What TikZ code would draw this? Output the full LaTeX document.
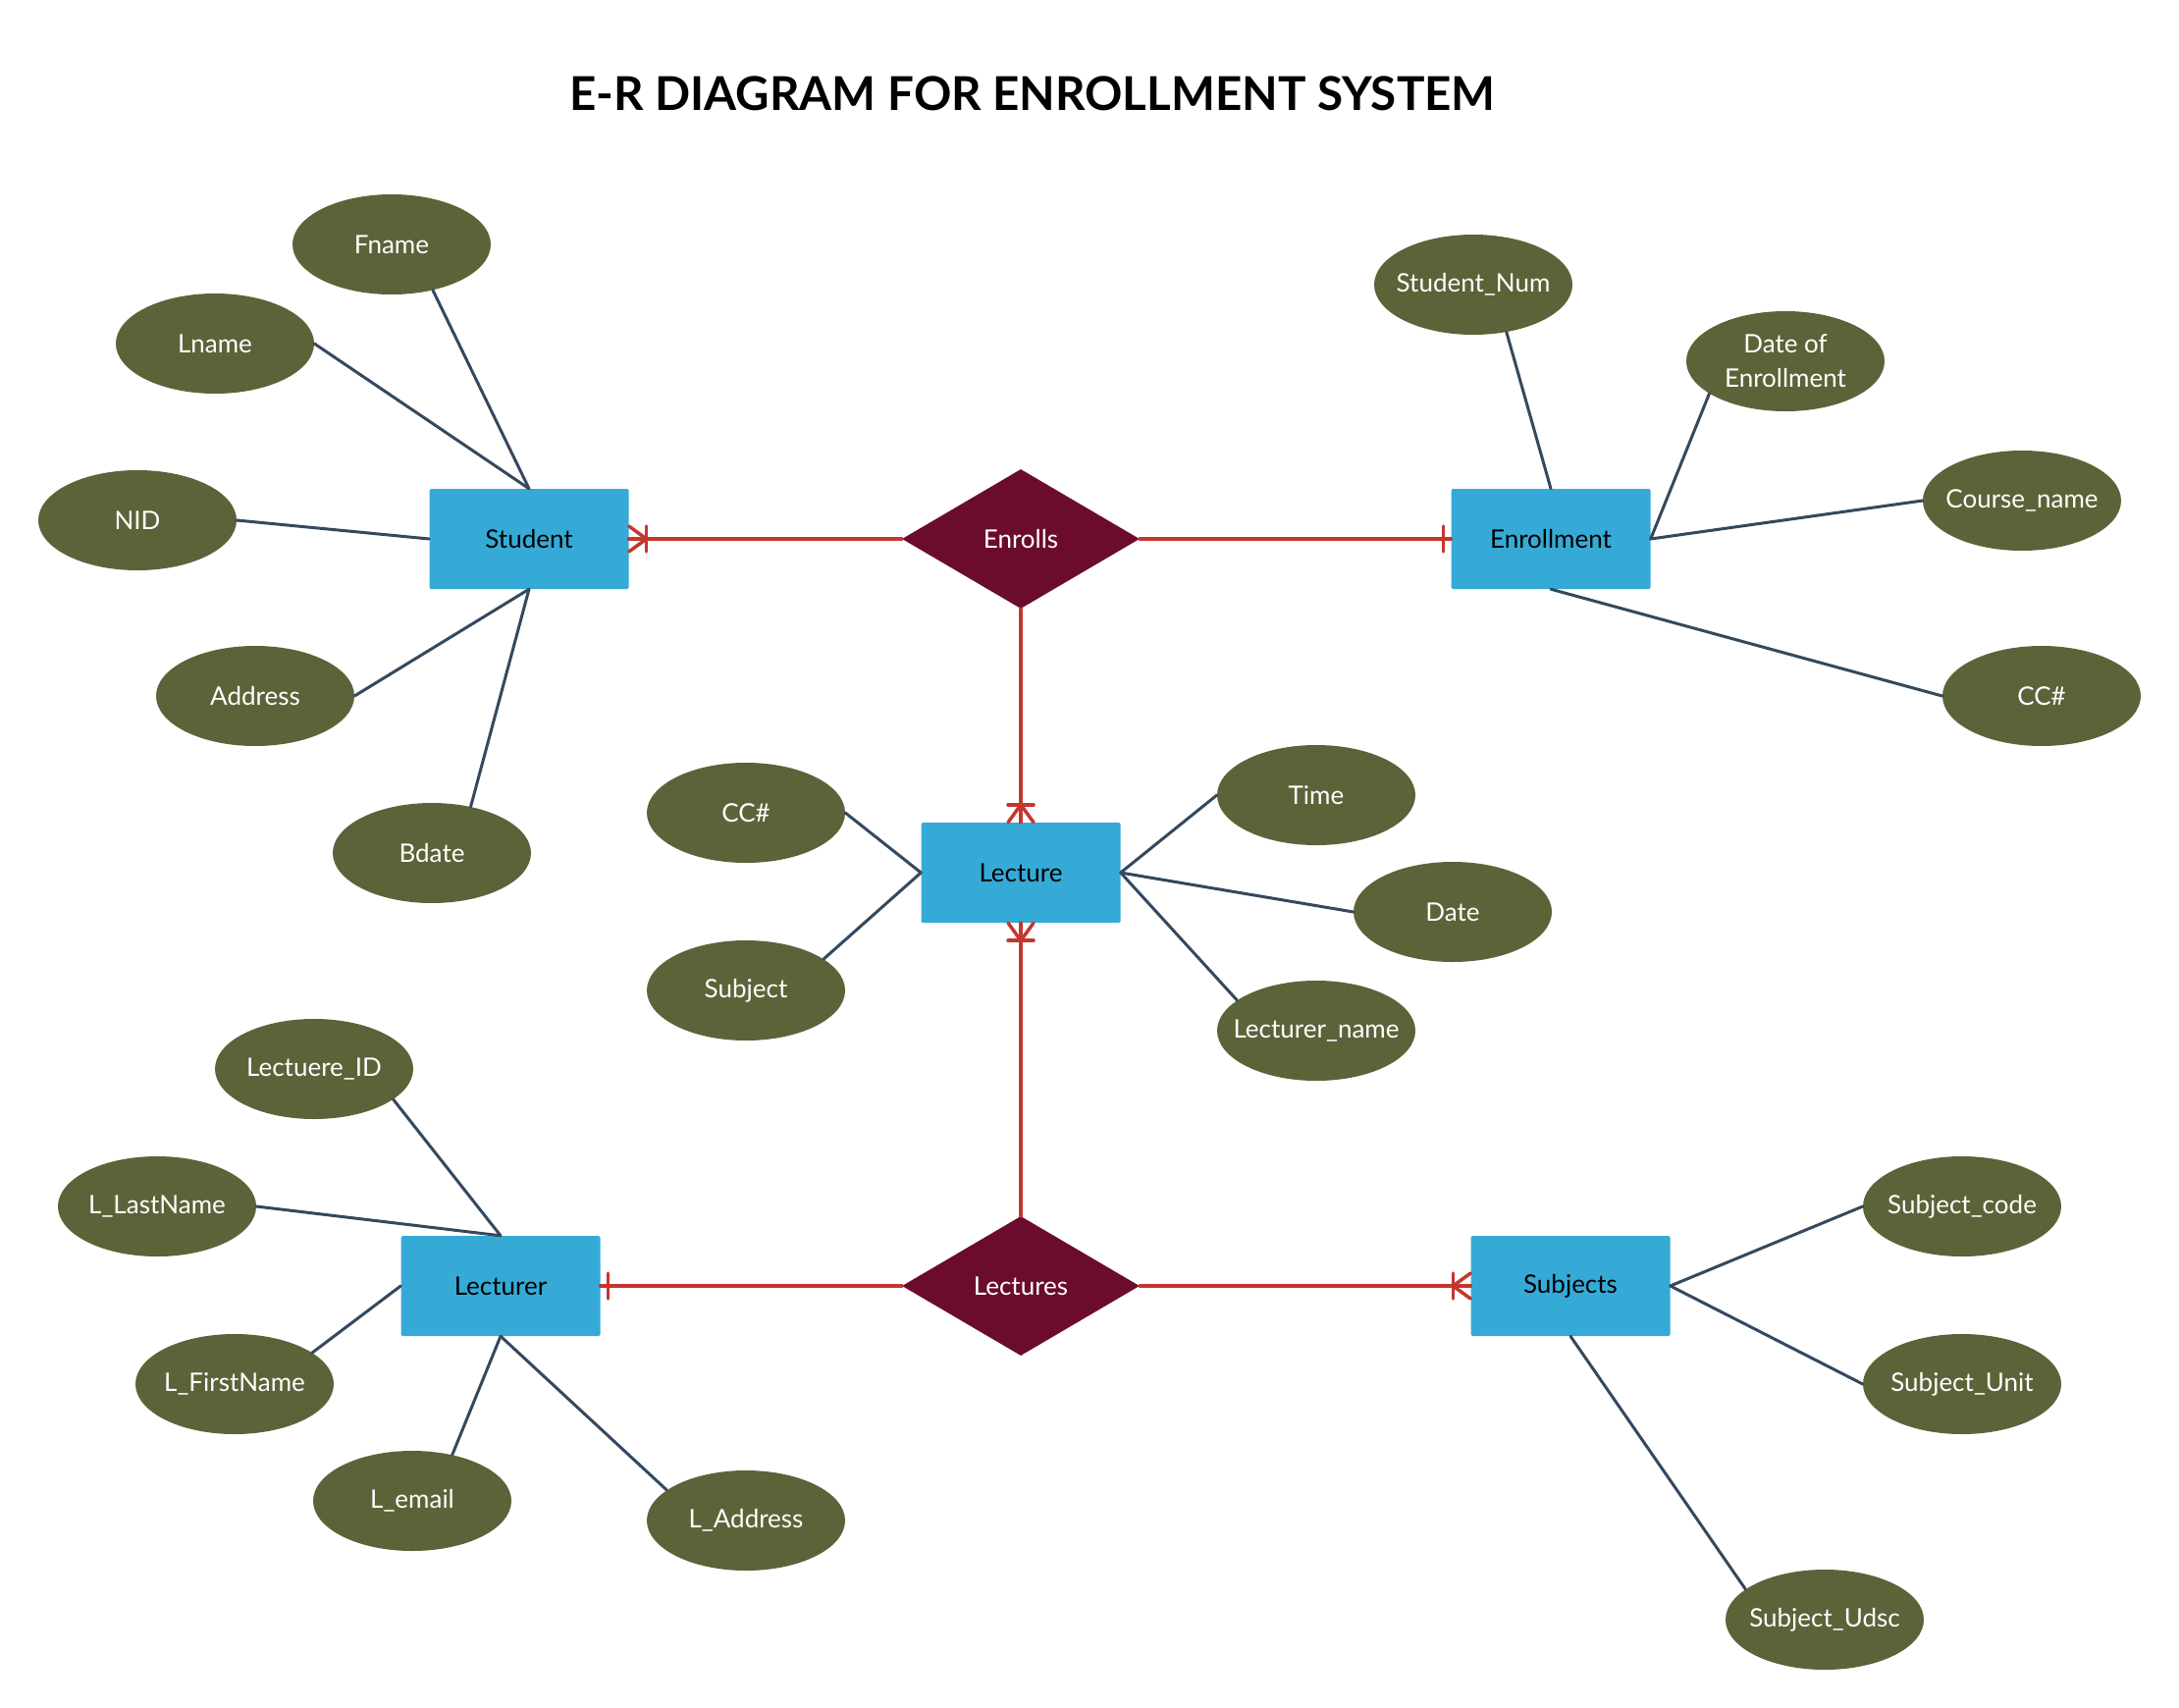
\documentclass[tikz,border=0pt]{standalone}
\usepackage{fontspec}
\setmainfont{Lato}
\usetikzlibrary{shapes.geometric,calc}
\definecolor{entblue}{HTML}{36AAD6}
\definecolor{relred}{HTML}{6B0C2E}
\definecolor{attrolive}{HTML}{5C6339}
\definecolor{linkdark}{HTML}{34495E}
\definecolor{linkred}{HTML}{C4372F}
\begin{document}
\begin{tikzpicture}[x=1pt,y=-1pt,
  entity/.style={rectangle,fill=entblue,minimum width=203pt,minimum height=102pt,inner sep=0pt,rounded corners=1.5pt,text=black,font=\fontsize{26}{35}\selectfont},
  relation/.style={diamond,fill=relred,minimum width=242pt,minimum height=142pt,aspect=1.7,inner sep=0pt,text=white,font=\fontsize{26}{35}\selectfont},
  attr/.style={ellipse,fill=attrolive,minimum width=202pt,minimum height=102pt,inner xsep=-25pt,inner ysep=0pt,text=white,align=center,font=\fontsize{26}{35}\selectfont},
  alink/.style={draw=linkdark,line width=3pt,line cap=round},
  rlink/.style={draw=linkred,line width=3.5pt,line cap=round}]
\useasboundingbox (0,0) rectangle (2220,1740);
\node[font=\fontsize{47.5}{52}\selectfont\bfseries] (title) at (1052,95) {E-R DIAGRAM FOR ENROLLMENT SYSTEM};
% entities
\node[entity] (Student) at (539,549) {Student};
\node[entity] (Enrollment) at (1580,549) {Enrollment};
\node[entity] (Lecture) at (1040,889) {Lecture};
\node[entity] (Lecturer) at (510,1310) {Lecturer};
\node[entity] (Subjects) at (1600,1310) {Subjects};
% relationships
\node[relation] (Enrolls) at (1040,549) {Enrolls};
\node[relation] (Lectures) at (1040,1310) {Lectures};
% attributes
\node[attr] (Fname) at (399,249) {Fname};
\node[attr] (Lname) at (219,350) {Lname};
\node[attr] (NID) at (140,530) {NID};
\node[attr] (Address) at (260,709) {Address};
\node[attr] (Bdate) at (440,869) {Bdate};
\node[attr] (StudentNum) at (1501,290) {Student\_Num};
\node[attr] (DoE) at (1819,368) {Date of\\Enrollment};
\node[attr] (Course) at (2060,510) {Course\_name};
\node[attr] (CCe) at (2080,709) {CC\#};
\node[attr] (CCl) at (760,828) {CC\#};
\node[attr] (Subject) at (760,1009) {Subject};
\node[attr] (Time) at (1341,810) {Time};
\node[attr] (Date) at (1480,929) {Date};
\node[attr] (LecName) at (1341,1050) {Lecturer\_name};
\node[attr] (LID) at (320,1089) {Lectuere\_ID};
\node[attr] (LLast) at (160,1229) {L\_LastName};
\node[attr] (LFirst) at (239,1410) {L\_FirstName};
\node[attr] (Lemail) at (420,1529) {L\_email};
\node[attr] (LAddr) at (760,1549) {L\_Address};
\node[attr] (Scode) at (1999,1229) {Subject\_code};
\node[attr] (Sunit) at (1999,1410) {Subject\_Unit};
\node[attr] (Sudsc) at (1859,1650) {Subject\_Udsc};
% attribute links
\draw[alink] (Fname.-48) -- (Student.north);
\draw[alink] (Lname.east) -- (Student.north);
\draw[alink] (NID.east) -- (Student.west);
\draw[alink] (Address.east) -- (Student.south);
\draw[alink] (Bdate.50) -- (Student.south);
\draw[alink] (StudentNum.-55) -- (Enrollment.north);
\draw[alink] (DoE.-157) -- (Enrollment.east);
\draw[alink] (Course.west) -- (Enrollment.east);
\draw[alink] (CCe.west) -- (Enrollment.south);
\draw[alink] (CCl.east) -- (Lecture.west);
\draw[alink] (Subject.22) -- (Lecture.west);
\draw[alink] (Time.west) -- (Lecture.east);
\draw[alink] (Date.west) -- (Lecture.east);
\draw[alink] (LecName.159) -- (Lecture.east);
\draw[alink] (LID.-21) -- (Lecturer.north);
\draw[alink] (LLast.east) -- (Lecturer.north);
\draw[alink] (LFirst.22) -- (Lecturer.west);
\draw[alink] (Lemail.49) -- (Lecturer.south);
\draw[alink] (LAddr.159) -- (Lecturer.south);
\draw[alink] (Scode.west) -- (Subjects.east);
\draw[alink] (Sunit.west) -- (Subjects.east);
\draw[alink] (Sudsc.159) -- (Subjects.south);
% relationship links
\draw[rlink] (Enrolls.west) -- (Student.east);
\draw[rlink] (Enrolls.east) -- (Enrollment.west);
\draw[rlink] (Enrolls.south) -- (Lecture.north);
\draw[rlink] (Lectures.north) -- (Lecture.south);
\draw[rlink] (Lectures.west) -- (Lecturer.east);
\draw[rlink] (Lectures.east) -- (Subjects.west);
% cardinality marks: many (crow's foot + bar)
\draw[rlink] ($(Student.east)+(18,-13)$) -- ($(Student.east)+(18,13)$);
\draw[rlink] ($(Student.east)+(0,-13)$) -- ($(Student.east)+(18,0)$) -- ($(Student.east)+(0,13)$);
\draw[rlink] ($(Lecture.north)+(-13,-18)$) -- ($(Lecture.north)+(13,-18)$);
\draw[rlink] ($(Lecture.north)+(-13,0)$) -- ($(Lecture.north)+(0,-18)$) -- ($(Lecture.north)+(13,0)$);
\draw[rlink] ($(Lecture.south)+(-13,18)$) -- ($(Lecture.south)+(13,18)$);
\draw[rlink] ($(Lecture.south)+(-13,0)$) -- ($(Lecture.south)+(0,18)$) -- ($(Lecture.south)+(13,0)$);
\draw[rlink] ($(Subjects.west)+(-18,-13)$) -- ($(Subjects.west)+(-18,13)$);
\draw[rlink] ($(Subjects.west)+(0,-13)$) -- ($(Subjects.west)+(-18,0)$) -- ($(Subjects.west)+(0,13)$);
% cardinality marks: one (bar)
\draw[rlink] ($(Enrollment.west)+(-8,-13)$) -- ($(Enrollment.west)+(-8,13)$);
\draw[rlink] ($(Lecturer.east)+(8,-13)$) -- ($(Lecturer.east)+(8,13)$);
\end{tikzpicture}
\end{document}
